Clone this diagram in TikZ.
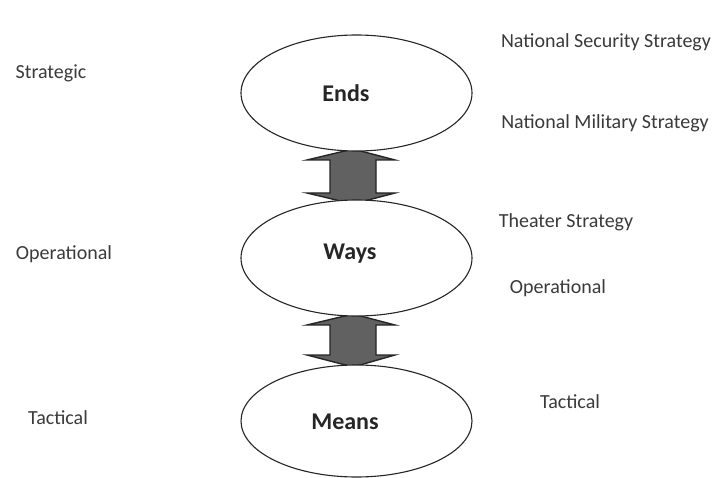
\documentclass[tikz,border=0pt]{standalone}
\usepackage{fontspec}
\setmainfont{Carlito}
\usetikzlibrary{shapes.geometric}
\definecolor{txt}{HTML}{3A3A3A}
\tikzset{
  oval/.style={ellipse, draw=black!85, line width=1.1pt, fill=white,
    minimum width=231pt, minimum height=116pt, inner sep=0pt},
  oltext/.style={font=\fontsize{24}{26}\selectfont\bfseries, text=black!85},
  side/.style={font=\fontsize{20}{22}\selectfont, text=txt, inner sep=0pt},
  blockarrow/.style={fill=black!62, draw=black!85, line width=1.4pt, line join=miter}
}
\newcommand{\myudarrow}[4]{% #1 top tip, #2 top base, #3 bottom base, #4 bottom tip
  \draw[blockarrow] (353,#1) -- (395,#2) -- (376,#2) -- (376,#3) -- (395,#3)
    -- (353,#4) -- (307,#3) -- (330,#3) -- (330,#2) -- (307,#2) -- cycle;}
\begin{document}
\begin{tikzpicture}[x=1pt,y=-1pt]
\useasboundingbox (0,0) rectangle (719,478);
\fill[white] (0,0) rectangle (719,478);
% block arrows (tips hidden behind ellipses)
\myudarrow{149}{160}{193}{204}
\myudarrow{314}{325}{355}{367}
% ellipses
\node[oval] (ends) at (356.5,93) {};
\node[oval] (ways) at (356.5,258) {};
\node[oval, minimum height=112pt] (means) at (356.5,421) {};
\node[oltext] (endst) at (346,93) {Ends};
\node[oltext] (wayst) at (350,254) {Ways};
\node[oltext] (meanst) at (345,422) {Means};
% left labels
\node[side] (strat) at (51,73) {Strategic};
\node[side] (oper) at (64,254) {Operational};
\node[side] (tact) at (58,418) {Tactical};
% right labels
\node[side] (nss) at (606,42) {National Security Strategy};
\node[side] (nms) at (605,123) {National Military Strategy};
\node[side] (ts) at (566,222) {Theater Strategy};
\node[side] (opr) at (558,288) {Operational};
\node[side] (tcr) at (570,402) {Tactical};
\end{tikzpicture}
\end{document}
